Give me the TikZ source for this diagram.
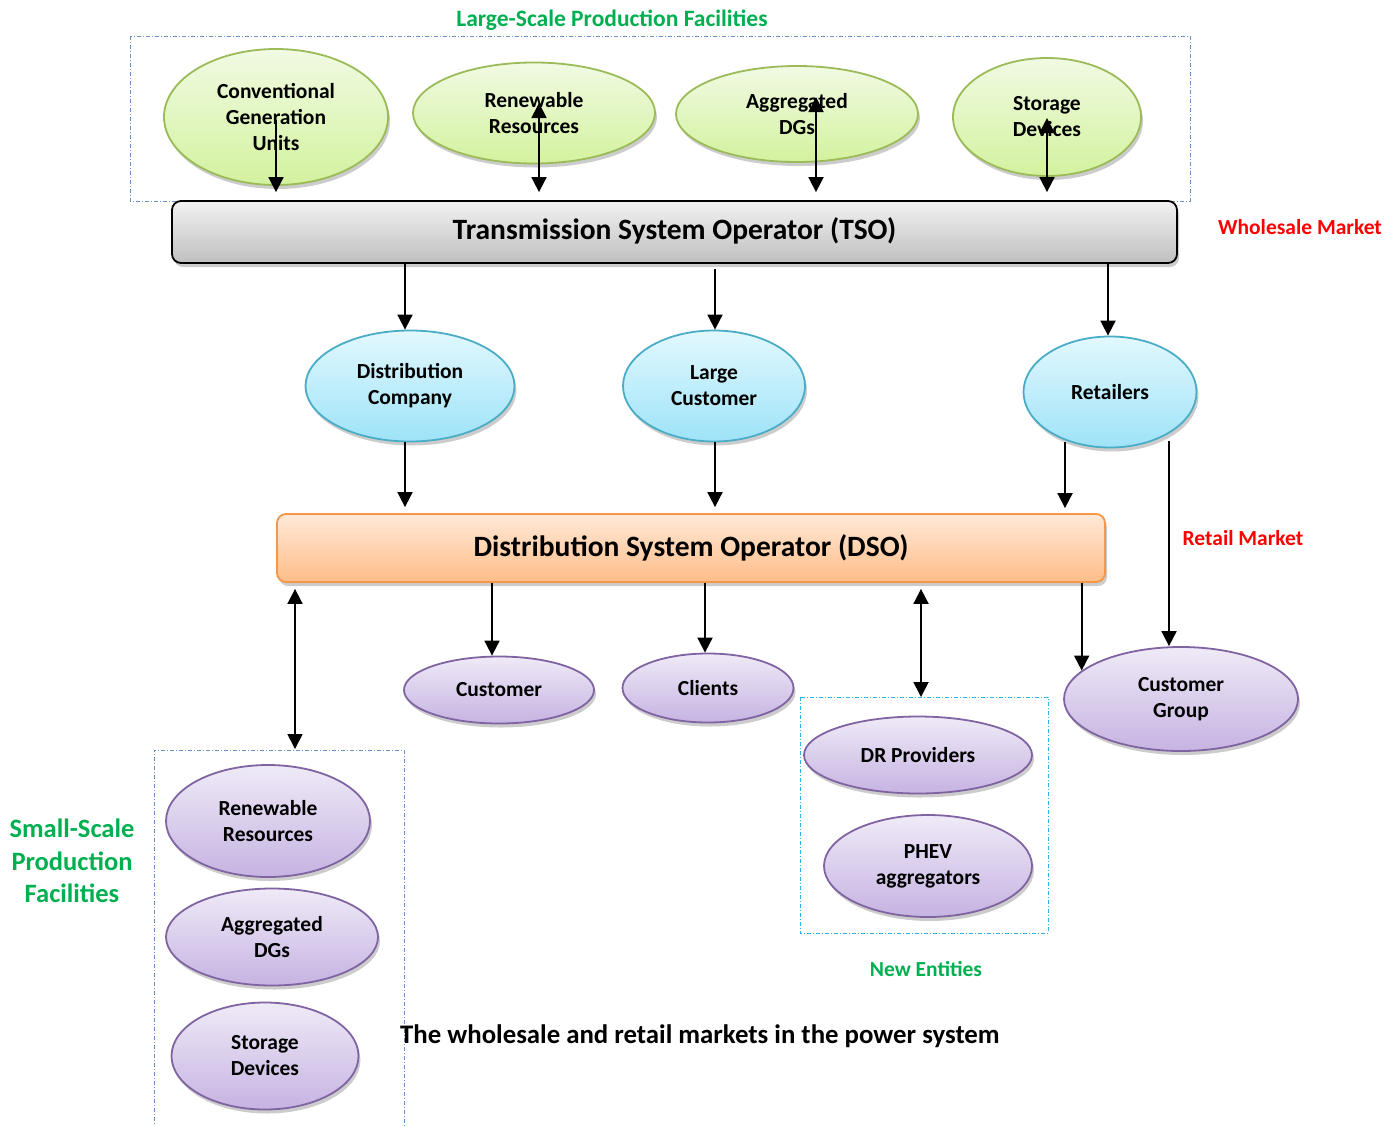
\documentclass[tikz,border=0pt]{standalone}
\usepackage{fontspec}
\setmainfont{Carlito}
\usetikzlibrary{shapes.geometric,arrows.meta,shadows,calc}
\definecolor{gtop}{HTML}{F1FAE3}
\definecolor{gbot}{HTML}{D3F29E}
\definecolor{gbrd}{HTML}{9BBB59}
\definecolor{btop}{HTML}{E2F8FE}
\definecolor{bbot}{HTML}{9EE3F8}
\definecolor{bbrd}{HTML}{4BACC6}
\definecolor{ptop}{HTML}{EFEAF7}
\definecolor{pbot}{HTML}{C6B3E2}
\definecolor{pbrd}{HTML}{8064A2}
\definecolor{otop}{HTML}{FFE9D8}
\definecolor{obot}{HTML}{FFBD88}
\definecolor{obrd}{HTML}{F79646}
\definecolor{stop}{HTML}{F2F2F2}
\definecolor{sbot}{HTML}{BFBFBF}
\definecolor{lgreen}{HTML}{00B050}
\definecolor{lred}{HTML}{FF0000}
\definecolor{dashblue}{HTML}{6A93C9}
\definecolor{dashcyan}{HTML}{2CB6EE}
\begin{document}
\begin{tikzpicture}[x=1pt,y=-1pt,
  txt/.style={font=\bfseries\fontsize{21.5}{26}\selectfont,align=center},
  ell/.style={ellipse,inner sep=0pt,line width=1.8pt,txt,
     drop shadow={shadow xshift=2pt,shadow yshift=-4pt,opacity=0.2,fill=black}},
  gell/.style={ell,draw=gbrd,top color=gtop,bottom color=gbot},
  bell/.style={ell,draw=bbrd,top color=btop,bottom color=bbot},
  pell/.style={ell,draw=pbrd,top color=ptop,bottom color=pbot},
  bar/.style={rectangle,rounded corners=9pt,inner sep=0pt,line width=1.8pt,
     font=\bfseries\fontsize{29.5}{34}\selectfont,
     drop shadow={shadow xshift=2pt,shadow yshift=-4pt,opacity=0.2,fill=black}},
  arr/.style={line width=1.8pt,-{Triangle[length=15pt,width=15pt]}},
  dbl/.style={line width=1.8pt,{Triangle[length=15pt,width=15pt]}-{Triangle[length=15pt,width=15pt]}},
  grp/.style={line width=0.9pt,dash pattern=on 4pt off 2pt on 1pt off 2pt},
  gtitle/.style={font=\bfseries\fontsize{21.5}{26}\selectfont,text=lgreen,align=center},
  rtitle/.style={font=\bfseries\fontsize{21.5}{26}\selectfont,text=lred}
]
\useasboundingbox (0,0) rectangle (1399,1125);

% large-scale group
\draw[grp,draw=dashblue] (130,36) rectangle (1190,201);
\node[gtitle,font=\bfseries\fontsize{23.5}{28}\selectfont] (lstitle) at (612,20) {Large-Scale Production Facilities};

\node[gell,minimum width=224pt,minimum height=136pt] (conv) at (276,117) {Conventional\\Generation\\Units};
\node[gell,minimum width=242pt,minimum height=101pt] (lren) at (534,113) {Renewable\\Resources};
\node[gell,minimum width=242pt,minimum height=96pt] (ldg) at (797,114) {Aggregated\\DGs};
\node[gell,minimum width=188pt,minimum height=118pt] (lsto) at (1047,117) {Storage\\Devices};

% TSO
\node[bar,draw=black,top color=stop,bottom color=sbot,minimum width=1005pt,minimum height=62pt] (tso) at (674.5,232) {\raisebox{6pt}{Transmission System Operator (TSO)}};
\node[rtitle] (wm) at (1300,227) {Wholesale Market};

\coordinate (c1) at (276,120);
\coordinate (c2) at (539,103);
\coordinate (c3) at (816,97);
\coordinate (c4) at (1047,118);
\draw[arr,shorten >=8pt] (c1) -- (c1 |- tso.north);
\draw[dbl,shorten >=8pt] (c2) -- (c2 |- tso.north);
\draw[dbl,shorten >=8pt] (c3) -- (c3 |- tso.north);
\draw[dbl,shorten >=8pt] (c4) -- (c4 |- tso.north);

% blue ellipses
\node[bell,minimum width=209pt,minimum height=111pt] (dist) at (410,386) {Distribution\\Company};
\node[bell,minimum width=182pt,minimum height=111pt] (lcust) at (714,386) {Large\\Customer};
\node[bell,minimum width=173pt,minimum height=111pt] (ret) at (1110,392) {Retailers};

\draw[arr] (405,0 |- tso.south) -- (405,0 |- dist.north);
\draw[arr] ($(715,0 |- tso.south)+(0,5)$) -- (715,0 |- lcust.north);
\draw[arr] (1108,0 |- tso.south) -- (1108,0 |- ret.north);

% DSO
\node[bar,draw=obrd,top color=otop,bottom color=obot,minimum width=828pt,minimum height=68pt] (dso) at (691,548) {Distribution System Operator (DSO)};
\node[rtitle] (rm) at (1243,538) {Retail Market};

\draw[arr] (405,0 |- dist.south) -- ($(405,0 |- dso.north)+(0,-6)$);
\draw[arr] (715,0 |- lcust.south) -- ($(715,0 |- dso.north)+(0,-6)$);
\coordinate (r1) at (1065,442);
\draw[arr] (r1) -- ($(r1 |- dso.north)+(0,-5)$);

% purple ellipses
\node[pell,minimum width=190pt,minimum height=67pt] (cust) at (499,690) {Customer};
\node[pell,minimum width=171pt,minimum height=69pt] (cli) at (708,688) {Clients};
\node[pell,minimum width=234pt,minimum height=104pt] (cg) at (1181,699) {Customer\\Group};

\coordinate (r2) at (1169,441);
\draw[arr] (r2) -- (r2 |- cg.north);
\draw[arr] (492,0 |- dso.south) -- (492,0 |- cust.north);
\draw[arr] (705,0 |- dso.south) -- (705,0 |- cli.north);
\draw[arr] (cg.164 |- dso.south) -- (cg.164);

% new entities
\draw[grp,draw=dashcyan] (800,697) rectangle (1048,933);
\coordinate (ne) at (921,697);
\draw[dbl] ($(ne |- dso.south)+(0,6)$) -- (ne);
\node[pell,minimum width=228pt,minimum height=77pt] (dr) at (918,755) {DR Providers};
\node[pell,minimum width=208pt,minimum height=102pt] (phev) at (928,866) {PHEV\\aggregators};
\node[gtitle] (netitle) at (926,969) {New Entities};

% small-scale
\draw[grp,draw=dashblue] (154,1130) -- (154,750) -- (404,750) -- (404,1130);
\coordinate (ss) at (295,749);
\draw[dbl] ($(ss |- dso.south)+(0,6)$) -- (ss);
\node[pell,minimum width=204pt,minimum height=112pt] (sren) at (268,821) {Renewable\\Resources};
\node[pell,minimum width=212pt,minimum height=97pt] (sdg) at (272,937) {Aggregated\\DGs};
\node[pell,minimum width=187pt,minimum height=107pt] (ssto) at (265,1056) {Storage\\Devices};
\node[gtitle,font=\bfseries\fontsize{26.5}{32.5}\selectfont] (sstitle) at (72,861) {Small-Scale\\Production\\Facilities};

% caption
\node[font=\bfseries\fontsize{26.8}{32}\selectfont,anchor=west,inner sep=0pt] (cap) at (400,1036) {The wholesale and retail markets in the power system};
\end{tikzpicture}
\end{document}
